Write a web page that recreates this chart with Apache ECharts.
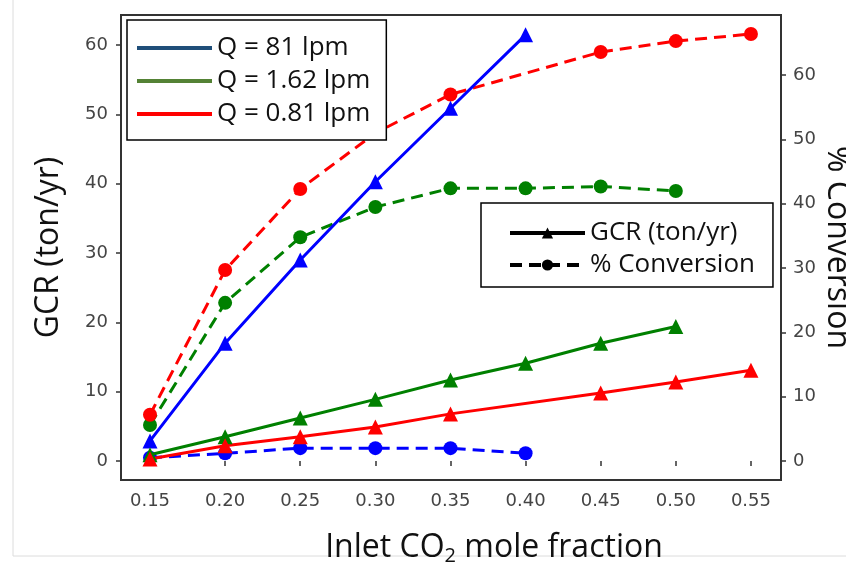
<!DOCTYPE html>
<html>
<head>
<meta charset="utf-8">
<script src="https://cdn.jsdelivr.net/npm/echarts@6/dist/echarts.min.js"></script>
<style>html,body{margin:0;padding:0;background:#fff}#c{width:846px;height:567px}</style>
</head>
<body>
<div id="c"></div>
<script>
// ---- data ----
const xValues   = [0.15, 0.20, 0.25, 0.30, 0.35, 0.40, 0.45, 0.50, 0.55];
const gcrQ81    = [2.9, 17.0, 29.0, 40.3, 50.9, 61.5];
const convQ81   = [0.5, 1.2, 2.0, 2.0, 2.0, 1.2];
const gcrQ162   = [0.9, 3.5, 6.2, 8.9, 11.7, 14.1, 17.0, 19.4];
const convQ162  = [5.6, 24.6, 34.8, 39.5, 42.4, 42.4, 42.7, 42.0];
const gcrQ081   = [0.3, 2.2, 3.5, 4.9, 6.8, null, 9.8, 11.4, 13.1];
const convQ081  = [7.2, 29.7, 42.3, 51.0, 57.0, null, 63.6, 65.3, 66.4];
const xTicks    = [0.15, 0.20, 0.25, 0.30, 0.35, 0.40, 0.45, 0.50, 0.55];
const leftTicks = [0, 10, 20, 30, 40, 50, 60];
const rightTicks= [0, 10, 20, 30, 40, 50, 60];
const flowLegend = ['Q = 81 lpm', 'Q = 1.62 lpm', 'Q = 0.81 lpm'];
const typeLegend = ['GCR (ton/yr)', '% Conversion'];

function pairs(arr){ return arr.map((v,i)=>[xValues[i], v]); }

const BLUE='#0000ff', GREEN='#008000', RED='#ff0000';
const tickFont = {fontFamily:'DejaVu Sans', fontSize:18, color:'#444'};

function gcr(name, data, color){
  return {name, type:'line', yAxisIndex:0, data:pairs(data), connectNulls:true,
    symbol:'triangle', symbolSize:15, lineStyle:{color, width:3}, itemStyle:{color}, z:3};
}
function conv(name, data, color){
  return {name, type:'line', yAxisIndex:1, data:pairs(data), connectNulls:true,
    symbol:'circle', symbolSize:14, lineStyle:{color, width:3, type:[12,7]}, itemStyle:{color}, z:2};
}
function dummy(name, color, opt){
  return Object.assign({name, type:'line', yAxisIndex:0, data:[], itemStyle:{color}, lineStyle:{color, width:4}}, opt||{});
}

const chart = echarts.init(document.getElementById('c'));
chart.setOption({
  animation:false,
  backgroundColor:'#fff',
  grid:{left:121, right:65, top:15, bottom:87, containLabel:false, outerBoundsMode:'none',
    show:true, borderColor:'#333', borderWidth:2, backgroundColor:'transparent'},
  xAxis:{type:'value', min:0.1307, max:0.57,
    axisLine:{show:false}, splitLine:{show:false},
    axisTick:{show:true, customValues:xTicks, length:5, lineStyle:{color:'#333', width:1.5}},
    axisLabel:{customValues:xTicks, formatter:v=>v.toFixed(2), margin:12, ...tickFont},
    name:'Inlet CO{s|2} mole fraction', nameLocation:'middle', nameGap:50,
    nameTextStyle:{fontFamily:'Open Sans', fontSize:32, color:'#111', padding:[0,0,0,86],
      rich:{s:{fontFamily:'Open Sans', fontSize:20, color:'#111', padding:[16,0,0,0]}}}
  },
  yAxis:[
    {type:'value', min:-2.74, max:64.36, position:'left',
      axisLine:{show:false}, splitLine:{show:false},
      axisTick:{show:true, customValues:leftTicks, length:5, lineStyle:{color:'#333', width:1.5}},
      axisLabel:{customValues:leftTicks, margin:13, ...tickFont},
      name:'GCR (ton/yr)', nameLocation:'middle', nameGap:56, nameRotate:90,
      nameTextStyle:{fontFamily:'Open Sans', fontSize:32, color:'#111'}},
    {type:'value', min:-2.95, max:69.36, position:'right',
      axisLine:{show:false}, splitLine:{show:false},
      axisTick:{show:true, customValues:rightTicks, length:5, lineStyle:{color:'#333', width:1.5}},
      axisLabel:{customValues:rightTicks, margin:12, ...tickFont},
      name:'% Conversion', nameLocation:'middle', nameGap:40, nameRotate:-90, nameMoveOverlap:false,
      nameTextStyle:{fontFamily:'Open Sans', fontSize:32, color:'#111'}}
  ],
  legend:[
    {data:flowLegend, orient:'vertical', left:127, top:20, itemWidth:75, itemHeight:4, itemGap:7,
      icon:'rect',
      padding:[15,16,13,10], borderColor:'#000', borderWidth:1.5, backgroundColor:'#fff',
      textStyle:{fontFamily:'Open Sans', fontSize:26, color:'#111'}, selectedMode:false},
    {data:typeLegend, orient:'vertical', left:481, top:203, itemWidth:75, itemHeight:14, itemGap:6,
      lineStyle:{width:4},
      padding:[17,18,9,27], borderColor:'#000', borderWidth:1.5, backgroundColor:'#fff',
      textStyle:{fontFamily:'Open Sans', fontSize:26, color:'#111'}, selectedMode:false}
  ],
  graphic:[
    {type:'line', shape:{x1:13, y1:0, x2:13, y2:556}, style:{stroke:'#dcdcdc', lineWidth:1}, silent:true},
    {type:'line', shape:{x1:13, y1:556, x2:846, y2:556}, style:{stroke:'#dcdcdc', lineWidth:1}, silent:true}
  ],
  series:[
    conv('conv81', convQ81, BLUE),
    conv('conv162', convQ162, GREEN),
    conv('conv081', convQ081, RED),
    gcr('gcr81', gcrQ81, BLUE),
    gcr('gcr162', gcrQ162, GREEN),
    gcr('gcr081', gcrQ081, RED),
    dummy('Q = 81 lpm', '#1f4e79', {symbol:'none'}),
    dummy('Q = 1.62 lpm', '#548235', {symbol:'none'}),
    dummy('Q = 0.81 lpm', '#ff0000', {symbol:'none'}),
    dummy('GCR (ton/yr)', '#000', {symbol:'triangle', symbolSize:14, lineStyle:{color:'#000', width:4}}),
    dummy('% Conversion', '#000', {symbol:'circle', symbolSize:14, lineStyle:{color:'#000', width:4, type:[12,7]}})
  ]
});
</script>
</body>
</html>
